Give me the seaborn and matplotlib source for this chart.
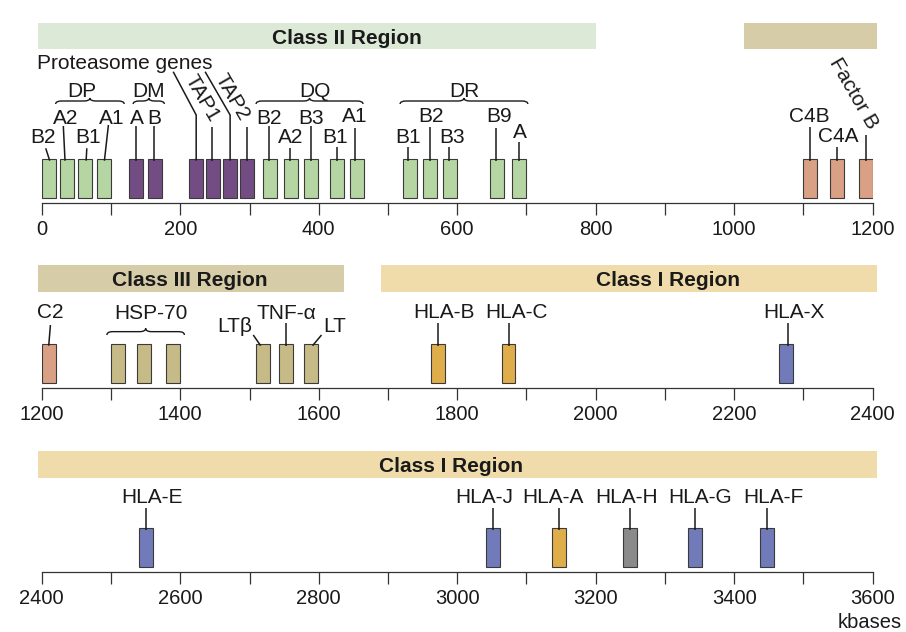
import numpy as np
import pandas as pd
import matplotlib
matplotlib.use("Agg")
import matplotlib.pyplot as plt
from matplotlib.patches import Rectangle, PathPatch
from matplotlib.path import Path
import seaborn as sns

# ---------------- data (gene positions in kb) ----------------
R1_NAMES = ["B2", "A2", "B1", "A1", "A", "B", "", "TAP1", "", "TAP2",
            "B2", "A2", "B3", "B1", "A1", "B1", "B2", "B3", "B9", "A",
            "C4B", "C4A", "Factor B"]
R1_POS = [10, 36, 63, 90, 136, 163, 223, 247, 272, 296,
          330, 360, 389, 426, 455, 532, 561, 590, 657, 689,
          1110, 1149, 1190]
R1_KIND = ["classII"] * 4 + ["dm"] * 6 + ["classII"] * 10 + ["compl"] * 3

R2_NAMES = ["C2", "", "", "", "LTβ", "TNF-α", "LT", "HLA-B", "HLA-C", "HLA-X"]
R2_POS = [1210, 1310, 1348, 1390, 1519, 1553, 1589, 1772, 1874, 2275]
R2_KIND = ["compl", "classIII", "classIII", "classIII", "classIII", "classIII",
           "classIII", "classical", "classical", "nonclassical"]

R3_NAMES = ["HLA-E", "HLA-J", "HLA-A", "HLA-H", "HLA-G", "HLA-F"]
R3_POS = [2550, 3052, 3147, 3250, 3344, 3447]
R3_KIND = ["nonclassical", "nonclassical", "classical", "pseudo",
           "nonclassical", "nonclassical"]

ROW_RANGES = [(0, 1200), (1200, 2400), (2400, 3600)]
TICK_STEP = 100
R1_TICKLABELS = ["0", "", "200", "", "400", "", "600", "", "800", "", "1000", "", "1200"]
R2_TICKLABELS = ["1200", "", "1400", "", "1600", "", "1800", "", "2000", "", "2200", "", "2400"]
R3_TICKLABELS = ["2400", "", "2600", "", "2800", "", "3000", "", "3200", "", "3400", "", "3600"]
UNIT_LABEL = "kbases"

REGION_NAMES = [["Class II Region", ""], ["Class III Region", "Class I Region"], ["Class I Region"]]
REGION_SPANS = [[(-6, 800), (1014, 1206)], [(1194, 1637), (1690, 2407)], [(2394, 3606)]]
REGION_KIND = [["classII", "classIII"], ["classIII", "classI"], ["classI"]]

GROUPS = [(0, 0, 3, "DP"), (0, 4, 5, "DM"), (0, 10, 14, "DQ"), (0, 15, 19, "DR"),
          (1, 1, 3, "HSP-70")]
PROTEASOME = (0, [6, 8], "Proteasome genes")

# ---------------- layout / style ----------------
FIG_W, FIG_H = 906, 632
AX_LEFT, AX_RIGHT = 41.8, 872.6
AXIS_Y = [202.7, 387.7, 572.3]
AX_HEIGHT = [182, 128, 128]
Y_BOTTOM = -5
BAR_H = 39
BAR_W = 20
LINE_BOT = 37
S = 1200 / (AX_RIGHT - AX_LEFT)   # kb per pixel

PAL = {"classII": "#b5d5a2", "dm": "#744c84", "compl": "#d9a086",
       "classIII": "#c6bb86", "classical": "#dfae4b", "nonclassical": "#717bb9",
       "pseudo": "#8a8a8a"}
BAND_COL = {"classII": "#dde9d7", "classIII": "#d6cca7", "classI": "#f0dcaa"}
EDGE = "#3a3a3a"
LINE_C = "#1a1a1a"
TXT_C = "#1a1a1a"

# (text dx px, text y, line top dx px, line top y, line bottom dx px, rotation)
R1_LAB = [
    (-5.7, 62.4, -3.0, 49.4, 1.0, 0),
    (-0.9, 81.0, -3.4, 71.7, -1.7, 0),
    (2.9, 62.4, 1.4, 49.4, 0.7, 0),
    (7.7, 81.0, 4.3, 72.7, 0.3, 0),
    (1.3, 81.0, 0, 71.7, 0, 0),
    (0, 81.0, -1, 71.7, -1, 0),
    None,
    (-11.3, 99.4, -1.3, 70.7, -1.3, -60),
    None,
    (-15, 101, 0, 70.7, 0, -60),
    (-1.3, 81, -1.7, 71.7, -1.7, 0),
    (-0.7, 62.4, -1.4, 49.4, -1.4, 0),
    (0, 81, 0, 71.7, 0, 0),
    (-1.2, 61.7, 0.3, 50.4, 0.3, 0),
    (-2, 82.7, -1.7, 69.4, -1.7, 0),
    (-1.7, 61.7, -1.7, 50.4, -1.7, 0),
    (1.3, 82.7, 0, 71, 0, 0),
    (1.3, 61.7, -1.7, 50.4, -1.7, 0),
    (2.8, 82.7, -0.7, 69.4, -0.7, 0),
    (1, 66.9, 0, 56, 0, 0),
    (-1, 83.2, 0, 70.4, 0, 0),
    (0.8, 62.7, 0, 51, 0, 0),
    (-12.5, 104.7, 0, 62.7, 0, -60),
]
R2_LAB = [
    (1.8, 72.7, 1.7, 57.7, 0, 0),
    None, None, None,
    (-27.7, 57.7, -9.4, 47.7, -2, 0),
    (0.3, 71, 0, 59.4, 0, 0),
    (23.7, 57.7, 10.4, 47.7, 1.4, 0),
    (6.2, 72.2, 0.3, 59.7, 0.3, 0),
    (8.1, 72.2, 0.3, 59.7, 0.3, 0),
    (8.2, 72.2, 1.7, 59.7, 1.7, 0),
]
R3_LAB = [
    (6.2, 71.8, 0, 59.6, 0, 0),
    (-9.4, 71.8, 0, 59.6, 0, 0),
    (-6.5, 71.8, 0, 59.6, 0, 0),
    (-3.5, 71.8, 0, 59.6, 0, 0),
    (4.7, 71.8, 0, 59.6, 0, 0),
    (6.3, 71.8, 0, 59.6, 0, 0),
]
BAND_Y = [(148.4, 174.4), (91, 117.7), (89.6, 116.3)]
BAND_TEXT_X = [[441, None], [1413, 2104.5], [2991]]
# brace pads (kb) left/right and label dx (kb)
BRACE_LAYOUT = {"DP": (10, 29, -12), "DM": (-4, 14, -0.5), "DQ": (-20.5, 9, 8),
                "DR": (-14.5, 13, 0), "HSP-70": (-16, 16, 7)}
BRACE_Y = [(93.7, 99.7, 107.7), (47.7, 54.4, 71)]
PROT_TEXT_XY = (-6.5, 136)
PROT_LINES = [(-23, 126, 82.7), (-25, 126, 82.7)]

LABEL_FS = 15
TICK_FS = 14.5
BAND_FS = 15
TICK_PAD = 3.7


def draw_brace(ax, x0, x1, y_end, y_tip, r):
    ym = (y_end + y_tip) / 2
    xc = (x0 + x1) / 2
    verts = [(x0, y_end), (x0, ym), (x0 + r, ym),
             (xc - r, ym),
             (xc, ym), (xc, y_tip),
             (xc, ym), (xc + r, ym),
             (x1 - r, ym),
             (x1, ym), (x1, y_end)]
    codes = [Path.MOVETO, Path.CURVE3, Path.CURVE3,
             Path.LINETO,
             Path.CURVE3, Path.CURVE3,
             Path.CURVE3, Path.CURVE3,
             Path.LINETO,
             Path.CURVE3, Path.CURVE3]
    ax.add_patch(PathPatch(Path(verts, codes), fc="none", ec=LINE_C, lw=1.0,
                           clip_on=False, zorder=3))


sns.set_theme(style="white")
plt.rcParams["font.family"] = ["Liberation Sans", "DejaVu Sans"]

fig = plt.figure(figsize=(FIG_W / 100, FIG_H / 100), dpi=100)

rows = [(R1_NAMES, R1_POS, R1_KIND, R1_LAB, R1_TICKLABELS),
        (R2_NAMES, R2_POS, R2_KIND, R2_LAB, R2_TICKLABELS),
        (R3_NAMES, R3_POS, R3_KIND, R3_LAB, R3_TICKLABELS)]
axes = []
for r, (names, pos, kind, lab, ticklabels) in enumerate(rows):
    lo, hi = ROW_RANGES[r]
    ax = fig.add_axes([AX_LEFT / FIG_W, (FIG_H - AXIS_Y[r]) / FIG_H,
                       (AX_RIGHT - AX_LEFT) / FIG_W, AX_HEIGHT[r] / FIG_H])
    ax.set_facecolor("none")
    axes.append(ax)

    df = pd.DataFrame({"pos": pos, "h": [BAR_H] * len(pos), "kind": kind})
    native = float(np.min(np.diff(np.unique(pos))))
    sns.barplot(data=df, x="pos", y="h", hue="kind", palette=PAL, native_scale=True,
                width=BAR_W / native, dodge=False, legend=False, errorbar=None,
                saturation=1, edgecolor=EDGE, linewidth=0.8, ax=ax, zorder=2)

    ax.set_xlim(lo, hi)
    ax.set_ylim(Y_BOTTOM, AX_HEIGHT[r] + Y_BOTTOM)
    ax.set_xlabel("")
    ax.set_ylabel("")
    for s in ["left", "top", "right"]:
        ax.spines[s].set_visible(False)
    ax.spines["bottom"].set_color("#333333")
    ax.spines["bottom"].set_linewidth(0.9)
    ax.set_xticks(np.arange(lo, hi + 1, TICK_STEP))
    ax.set_xticklabels(ticklabels)
    ax.tick_params(axis="x", which="both", bottom=True, direction="out", length=8.6,
                   width=0.9, color="#333333", pad=TICK_PAD, labelsize=TICK_FS,
                   labelcolor=TXT_C)
    ax.tick_params(axis="y", left=False, labelleft=False)

    # region bands
    y0, y1 = BAND_Y[r]
    for name, (bx0, bx1), bk, tx in zip(REGION_NAMES[r], REGION_SPANS[r],
                                         REGION_KIND[r], BAND_TEXT_X[r]):
        ax.add_patch(Rectangle((bx0, y0), bx1 - bx0, y1 - y0, fc=BAND_COL[bk],
                               ec="none", clip_on=False, zorder=1))
        if name:
            ax.text(tx, (y0 + y1) / 2, name, ha="center", va="center_baseline",
                    fontsize=BAND_FS, fontweight="bold", color=TXT_C)

    # gene labels + leader lines
    for i, L in enumerate(lab):
        if L is None:
            continue
        x = pos[i]
        tdx, ty, ldx, ly, bdx, rot = L
        ax.text(x + tdx * S, ty, names[i], ha="center",
                va="center_baseline" if rot == 0 else "center",
                rotation=rot, rotation_mode="anchor", fontsize=LABEL_FS, color=TXT_C)
        ax.plot([x + ldx * S, x + bdx * S], [ly, LINE_BOT], color=LINE_C, lw=1.1,
                solid_capstyle="butt", zorder=3)

# braces with group labels
for row, i0, i1, label in GROUPS:
    ax = axes[row]
    pos = rows[row][1]
    pl, pr, ldx = BRACE_LAYOUT[label]
    x0, x1 = pos[i0] + pl, pos[i1] + pr
    ye, yt, yl = BRACE_Y[row]
    draw_brace(ax, x0, x1, ye, yt, 6 * S)
    ax.text((x0 + x1) / 2 + ldx, yl, label, ha="center", va="center_baseline",
            fontsize=LABEL_FS, color=TXT_C)

# proteasome genes
prow, pidx, ptext = PROTEASOME
ax = axes[prow]
ax.text(PROT_TEXT_XY[0], PROT_TEXT_XY[1], ptext, ha="left", va="center_baseline",
        fontsize=LABEL_FS, color=TXT_C)
for gi, (dxp, ytop, yel) in zip(pidx, PROT_LINES):
    x = R1_POS[gi]
    ax.plot([x + dxp * S, x, x], [ytop, yel, LINE_BOT], color=LINE_C, lw=1.1,
            solid_capstyle="butt", solid_joinstyle="miter", zorder=3)

fig.text(870 / FIG_W, 1 - 620 / FIG_H, UNIT_LABEL, ha="center", va="center_baseline",
         fontsize=TICK_FS, color=TXT_C)

fig.savefig("out.png", dpi=100)
